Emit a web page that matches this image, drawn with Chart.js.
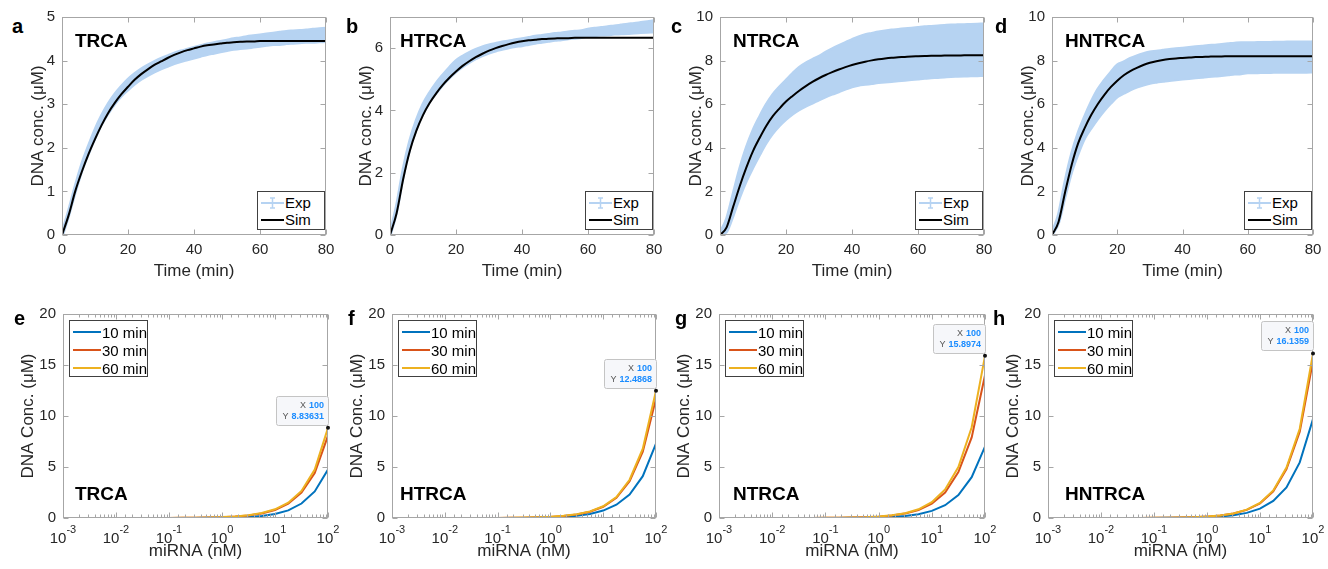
<!DOCTYPE html>
<html>
<head>
<meta charset="utf-8">
<script src="https://cdn.jsdelivr.net/npm/chart.js@4.4.1/dist/chart.umd.min.js"></script>
<style>
body{margin:0;width:1328px;height:569px;background:#fff;position:relative;overflow:hidden;font-family:'Liberation Sans',Arial,sans-serif;}
canvas{position:absolute;}
.tag{position:absolute;font-weight:bold;font-size:20px;line-height:20px;color:#000;}
.name{position:absolute;font-weight:bold;font-size:19px;line-height:19px;color:#000;}
.leg{position:absolute;background:#fff;border:1px solid #404040;box-sizing:border-box;color:#000;padding-top:2px;}
.leg .row{display:flex;align-items:center;white-space:nowrap;}
.leg svg{margin-left:3px;margin-right:1px;}
</style>
</head>
<body>
<script>
/* data: top row, kinetics (time in min, conc in uM) */
const timeMin = [0,2,4,6,8,10,12,14,16,18,20,22,24,26,28,30,32,34,36,38,40,42,44,46,48,50,52,54,56,58,60,62,64,66,68,70,72,74,76,78,80];

const trcaExpMean = [0,0.5,1.05,1.55,1.95,2.32,2.64,2.9,3.12,3.3,3.45,3.58,3.69,3.78,3.86,3.93,3.99,4.05,4.1,4.14,4.18,4.22,4.26,4.29,4.32,4.35,4.38,4.4,4.42,4.44,4.46,4.48,4.5,4.51,4.53,4.54,4.55,4.56,4.57,4.58,4.59];
const trcaExpErr = [0.04,0.06,0.07,0.08,0.09,0.1,0.1,0.11,0.11,0.11,0.12,0.12,0.12,0.12,0.12,0.12,0.12,0.12,0.12,0.12,0.12,0.12,0.12,0.12,0.12,0.12,0.12,0.12,0.13,0.13,0.13,0.13,0.13,0.14,0.14,0.14,0.14,0.14,0.15,0.15,0.15];
const trcaSim = [0,0.45,1.0,1.45,1.85,2.2,2.52,2.8,3.03,3.23,3.4,3.56,3.69,3.8,3.9,3.98,4.06,4.13,4.19,4.24,4.28,4.32,4.35,4.37,4.39,4.41,4.42,4.43,4.44,4.44,4.45,4.45,4.45,4.45,4.45,4.45,4.45,4.45,4.45,4.45,4.45];

const htrcaExpMean = [0,0.85,2.0,2.9,3.55,4.05,4.42,4.72,4.98,5.21,5.42,5.57,5.7,5.81,5.9,5.97,6.03,6.08,6.12,6.16,6.19,6.23,6.27,6.3,6.33,6.36,6.38,6.41,6.43,6.45,6.5,6.52,6.54,6.56,6.58,6.6,6.62,6.64,6.66,6.68,6.7];
const htrcaExpErr = [0.04,0.1,0.12,0.13,0.14,0.15,0.15,0.16,0.16,0.17,0.18,0.17,0.16,0.15,0.14,0.13,0.12,0.12,0.11,0.11,0.11,0.11,0.11,0.11,0.11,0.11,0.11,0.11,0.11,0.11,0.11,0.12,0.12,0.13,0.13,0.14,0.15,0.15,0.16,0.17,0.18];
const htrcaSim = [0,0.7,1.8,2.7,3.35,3.85,4.24,4.55,4.82,5.05,5.25,5.43,5.58,5.71,5.82,5.92,6.0,6.07,6.13,6.18,6.22,6.25,6.27,6.29,6.3,6.31,6.32,6.32,6.33,6.33,6.33,6.33,6.33,6.33,6.33,6.33,6.33,6.33,6.33,6.33,6.33];

const ntrcaExpMean = [0.05,0.45,1.4,2.4,3.25,3.95,4.55,5.1,5.55,5.9,6.2,6.48,6.72,6.9,7.05,7.2,7.36,7.5,7.63,7.76,7.88,7.98,8.05,8.1,8.15,8.19,8.22,8.25,8.28,8.31,8.34,8.37,8.39,8.41,8.43,8.45,8.46,8.47,8.48,8.49,8.5];
const ntrcaExpErr = [0.05,0.3,0.5,0.65,0.77,0.85,0.87,0.88,0.89,0.89,0.9,0.93,0.97,0.99,1.0,1.0,1.02,1.04,1.06,1.07,1.08,1.11,1.14,1.15,1.16,1.17,1.18,1.18,1.18,1.18,1.18,1.18,1.18,1.18,1.18,1.18,1.18,1.18,1.18,1.18,1.18];
const ntrcaSim = [0,0.35,1.3,2.25,3.1,3.85,4.45,5.0,5.45,5.8,6.12,6.38,6.62,6.83,7.02,7.19,7.34,7.47,7.59,7.7,7.8,7.88,7.95,8.01,8.06,8.1,8.13,8.15,8.17,8.19,8.2,8.21,8.22,8.22,8.23,8.23,8.23,8.24,8.24,8.24,8.24];

const hntrcaExpMean = [0.05,0.75,2.1,3.3,4.2,4.93,5.5,6.0,6.4,6.75,7.07,7.22,7.38,7.5,7.6,7.68,7.72,7.76,7.8,7.83,7.86,7.89,7.92,7.95,7.98,8.0,8.03,8.06,8.09,8.11,8.13,8.13,8.14,8.14,8.15,8.15,8.16,8.16,8.16,8.16,8.17];
const hntrcaExpErr = [0.05,0.2,0.35,0.42,0.48,0.5,0.6,0.67,0.69,0.71,0.73,0.72,0.72,0.72,0.72,0.72,0.71,0.71,0.71,0.71,0.71,0.71,0.71,0.71,0.71,0.71,0.71,0.71,0.71,0.71,0.69,0.69,0.69,0.69,0.69,0.69,0.69,0.69,0.69,0.69,0.69];
const hntrcaSim = [0,0.6,1.95,3.2,4.2,4.9,5.5,6.0,6.42,6.78,7.08,7.33,7.52,7.67,7.8,7.9,7.97,8.03,8.07,8.1,8.12,8.14,8.16,8.17,8.18,8.19,8.19,8.2,8.2,8.2,8.2,8.2,8.2,8.2,8.2,8.2,8.2,8.2,8.2,8.2,8.2];

/* data: bottom row, dose response (miRNA in nM) */
const miRNA = [0.001,0.00178,0.00316,0.00562,0.01,0.0178,0.0316,0.0562,0.1,0.178,0.316,0.562,1,1.78,3.16,5.62,10,17.8,31.6,56.2,100];
const seriesNames = ['10 min','30 min','60 min'];

const trca10 = [0.00002,0.00004,0.00007,0.0001,0.0002,0.0004,0.0007,0.001,0.002,0.004,0.007,0.013,0.025,0.05,0.1,0.2,0.4,0.75,1.42,2.6,4.75];
const trca30 = [0.00008,0.00014,0.00025,0.00045,0.0008,0.0014,0.0025,0.0045,0.008,0.014,0.025,0.045,0.08,0.14,0.25,0.45,0.79,1.4,2.5,4.4,8.07];
const trca60 = [0.00009,0.00016,0.00028,0.0005,0.0009,0.0016,0.0028,0.005,0.009,0.016,0.028,0.05,0.088,0.155,0.275,0.49,0.85,1.5,2.65,4.75,8.83631];

const htrca10 = [0.00003,0.00005,0.00009,0.00016,0.0003,0.0005,0.0009,0.0016,0.003,0.006,0.012,0.028,0.055,0.11,0.21,0.4,0.73,1.3,2.3,4.1,7.3];
const htrca30 = [0.00011,0.0002,0.00035,0.0006,0.0011,0.002,0.0035,0.006,0.011,0.02,0.035,0.062,0.11,0.2,0.35,0.62,1.1,1.98,3.6,6.5,11.7];
const htrca60 = [0.00012,0.00021,0.00038,0.00067,0.0012,0.0021,0.0038,0.0067,0.012,0.021,0.038,0.067,0.12,0.21,0.37,0.65,1.15,2.05,3.75,6.8,12.4868];

const ntrca10 = [0.00003,0.00005,0.00009,0.00016,0.0003,0.0005,0.0009,0.0016,0.003,0.006,0.013,0.025,0.05,0.1,0.19,0.37,0.7,1.25,2.25,4.0,7.0];
const ntrca30 = [0.00013,0.00024,0.00043,0.0008,0.0013,0.0024,0.0043,0.008,0.013,0.024,0.043,0.077,0.13,0.24,0.43,0.77,1.4,2.5,4.5,7.9,14.0];
const ntrca60 = [0.00014,0.00025,0.00045,0.0008,0.0014,0.0025,0.0045,0.008,0.014,0.025,0.045,0.08,0.145,0.26,0.47,0.85,1.55,2.8,5.0,8.9,15.8974];

const hntrca10 = [0.00008,0.00014,0.00025,0.00045,0.0008,0.0014,0.0025,0.0045,0.008,0.014,0.025,0.045,0.075,0.14,0.27,0.5,0.92,1.68,3.0,5.45,9.7];
const hntrca30 = [0.00013,0.00024,0.00042,0.00075,0.0013,0.0024,0.0042,0.0075,0.013,0.024,0.042,0.075,0.135,0.24,0.44,0.8,1.44,2.62,4.8,8.45,15.4];
const hntrca60 = [0.00014,0.00025,0.00045,0.0008,0.0014,0.0025,0.0045,0.008,0.014,0.025,0.045,0.08,0.14,0.25,0.45,0.82,1.48,2.7,4.95,8.75,16.1359];

/* layout */
const FONT = "'Liberation Sans', Arial, sans-serif";
const TXT = '#262626';
const EXP_BLUE = '#b6d3f2';
const lineColors = ['#0072BD','#D95319','#EDB120'];

const topPanels = [
  {tag:'a', name:'TRCA',   mean:trcaExpMean,   err:trcaExpErr,   sim:trcaSim,   yMax:5,  yStep:1, box:[62,326,17,235],   tagX:12,  nameX:75},
  {tag:'b', name:'HTRCA',  mean:htrcaExpMean,  err:htrcaExpErr,  sim:htrcaSim,  yMax:7,  yStep:2, box:[390,654,17,235],  tagX:346, nameX:400},
  {tag:'c', name:'NTRCA',  mean:ntrcaExpMean,  err:ntrcaExpErr,  sim:ntrcaSim,  yMax:10, yStep:2, box:[720,984,17,235],  tagX:671, nameX:733},
  {tag:'d', name:'HNTRCA', mean:hntrcaExpMean, err:hntrcaExpErr, sim:hntrcaSim, yMax:10, yStep:2, box:[1052,1313,17,235],tagX:995, nameX:1065}
];
const bottomPanels = [
  {tag:'e', name:'TRCA',   series:[trca10,trca30,trca60],       box:[63,328,314,518],   tagX:14,  nameX:75},
  {tag:'f', name:'HTRCA',  series:[htrca10,htrca30,htrca60],    box:[392,656,314,518],  tagX:348, nameX:400},
  {tag:'g', name:'NTRCA',  series:[ntrca10,ntrca30,ntrca60],    box:[719,985,314,518],  tagX:675, nameX:733},
  {tag:'h', name:'HNTRCA', series:[hntrca10,hntrca30,hntrca60], box:[1048,1313,314,518],tagX:993, nameX:1065}
];

const isDecade = v => Math.abs(Math.log10(v) - Math.round(Math.log10(v))) < 1e-6;

// box, inward ticks, log tick labels with superscripts
const matlabAxes = {
  id: 'matlabAxes',
  afterDatasetsDraw(chart) {
    const {ctx, chartArea: a} = chart;
    const xs = chart.scales.x, ys = chart.scales.y;
    const l = Math.round(a.left) + 0.5, r = Math.round(a.right) - 0.5;
    const t = Math.round(a.top) + 0.5, b = Math.round(a.bottom) - 0.5;
    const logX = xs.type === 'logarithmic';
    ctx.save();
    ctx.strokeStyle = '#a6a6a6';
    ctx.lineWidth = 1;
    ctx.beginPath();
    xs.ticks.forEach(tk => {
      if (tk.value < xs.min || tk.value > xs.max) return;
      const x = Math.round(xs.getPixelForValue(tk.value)) + 0.5;
      const len = logX && !isDecade(tk.value) ? 3 : 5;
      ctx.moveTo(x, b); ctx.lineTo(x, b - len);
      ctx.moveTo(x, t); ctx.lineTo(x, t + len);
    });
    ys.ticks.forEach(tk => {
      const y = Math.round(ys.getPixelForValue(tk.value)) + 0.5;
      ctx.moveTo(l, y); ctx.lineTo(l + 5, y);
      ctx.moveTo(r, y); ctx.lineTo(r - 5, y);
    });
    ctx.stroke();
    ctx.strokeRect(l, t, r - l, b - t);

    if (logX) {
      ctx.fillStyle = TXT;
      ctx.textBaseline = 'alphabetic';
      xs.ticks.forEach(tk => {
        if (!isDecade(tk.value)) return;
        const x = xs.getPixelForValue(tk.value);
        const ex = String(Math.round(Math.log10(tk.value)));
        ctx.font = '15px ' + FONT;
        const wb = ctx.measureText('10').width;
        ctx.font = '11px ' + FONT;
        const we = ctx.measureText(ex).width;
        const x0 = x - (wb + we) / 2;
        ctx.font = '15px ' + FONT;
        ctx.textAlign = 'left';
        ctx.fillText('10', x0, a.bottom + 25);
        ctx.font = '11px ' + FONT;
        ctx.fillText(ex, x0 + wb, a.bottom + 15);
      });
    }
    ctx.restore();
  }
};

// MATLAB style data tip on the last point of one dataset
const dataTip = {
  id: 'dataTip',
  afterDraw(chart, args, opts) {
    if (opts.dataset == null) return;
    const ds = chart.data.datasets[opts.dataset];
    const pt = ds.data[ds.data.length - 1];
    const px = chart.scales.x.getPixelForValue(pt.x);
    const py = chart.scales.y.getPixelForValue(pt.y);
    const {ctx} = chart;
    const w = 52, h = 29, x2 = px, y2 = py - 3;
    ctx.save();
    ctx.fillStyle = '#f6f7fa';
    ctx.strokeStyle = '#c4c4c4';
    ctx.lineWidth = 1;
    ctx.beginPath();
    ctx.roundRect(Math.round(x2 - w) + 0.5, Math.round(y2 - h) + 0.5, w, h, 2);
    ctx.fill(); ctx.stroke();
    ctx.fillStyle = '#111';
    ctx.beginPath();
    ctx.arc(px, py, 2, 0, Math.PI * 2);
    ctx.fill();
    const rows = [['X', String(pt.x)], ['Y', String(pt.y)]];
    rows.forEach((rw, i) => {
      const yy = y2 - h + 12 + i * 11;
      ctx.textAlign = 'right';
      ctx.font = 'bold 9px ' + FONT;
      ctx.fillStyle = '#1a8cff';
      ctx.fillText(rw[1], x2 - 4, yy);
      const wv = ctx.measureText(rw[1]).width;
      ctx.font = '9px ' + FONT;
      ctx.fillStyle = '#555';
      ctx.fillText(rw[0], x2 - 4 - wv - 3, yy);
    });
    ctx.restore();
  }
};

function addDiv(cls, text, left, top) {
  const d = document.createElement('div');
  d.className = cls;
  d.textContent = text;
  d.style.left = left + 'px';
  d.style.top = top + 'px';
  document.body.appendChild(d);
  return d;
}

function makeCanvas(box, yw, xh) {
  const [L, R, T, B] = box;
  const c = document.createElement('canvas');
  c.width = yw + (R - L) + 16;
  c.height = 12 + (B - T) + xh;
  c.style.left = (L - yw) + 'px';
  c.style.top = (T - 12) + 'px';
  document.body.appendChild(c);
  return c;
}

function baseScales(yw, yMax, yStep, yTitle) {
  return {
    y: {
      min: 0, max: yMax,
      grid: {display: false, drawTicks: false}, border: {display: false},
      ticks: {stepSize: yStep, padding: 7, color: TXT, font: {family: FONT, size: 15}},
      title: {display: true, text: yTitle, color: TXT, padding: 0, font: {family: FONT, size: 17}},
      afterBuildTicks: s => { s.ticks = s.ticks.filter(t => t.value % yStep === 0); },
      afterFit: s => { s.width = yw; s.paddingTop = 0; s.paddingBottom = 0; }
    }
  };
}

// top row: experiment band (mean +/- error) vs simulation
topPanels.forEach(p => {
  const yw = 34, xh = 47;
  const [L, R, T, B] = p.box;
  const scales = baseScales(yw, p.yMax, p.yStep, 'DNA conc. (\u03BCM)');
  scales.x = {
    type: 'linear', min: 0, max: 80, offset: false,
    grid: {display: false, drawTicks: false}, border: {display: false},
    ticks: {stepSize: 20, padding: 6, maxRotation: 0, color: TXT, font: {family: FONT, size: 15}},
    title: {display: true, text: 'Time (min)', color: TXT, padding: 0, font: {family: FONT, size: 17}},
    afterFit: s => { s.height = xh; s.paddingLeft = 0; s.paddingRight = 0; }
  };
  const band = {borderColor: EXP_BLUE, backgroundColor: EXP_BLUE, borderWidth: 3, pointRadius: 0, cubicInterpolationMode: 'monotone'};
  new Chart(makeCanvas(p.box, yw, xh), {
    type: 'line',
    data: {
      datasets: [
        {label: 'Sim', data: timeMin.map((t, i) => ({x: t, y: p.sim[i]})),
         borderColor: '#000', borderWidth: 2, pointRadius: 0, cubicInterpolationMode: 'monotone', fill: false, order: 1},
        Object.assign({label: 'Exp upper', data: timeMin.map((t, i) => ({x: t, y: p.mean[i] + p.err[i]})), fill: '+1', order: 2}, band),
        Object.assign({label: 'Exp lower', data: timeMin.map((t, i) => ({x: t, y: p.mean[i] - p.err[i]})), fill: false, order: 3}, band)
      ]
    },
    options: {
      responsive: false, animation: false, events: [],
      layout: {padding: {left: 0, top: 12, right: 16, bottom: 0}},
      plugins: {legend: {display: false}, tooltip: {enabled: false}},
      scales: scales
    },
    plugins: [matlabAxes]
  });
  addDiv('tag', p.tag, p.tagX, 16);
  addDiv('name', p.name, p.nameX, 31);
  const leg = addDiv('leg', '', R - 69, B - 44);
  leg.style.width = '68px'; leg.style.height = '39px'; leg.style.fontSize = '15px';
  leg.innerHTML =
    '<div class="row" style="height:17px"><svg width="23" height="12"><line x1="0" y1="6" x2="23" y2="6" stroke="' + EXP_BLUE + '" stroke-width="2"/>' +
    '<line x1="11.5" y1="1" x2="11.5" y2="11" stroke="' + EXP_BLUE + '" stroke-width="1.5"/><line x1="9" y1="1" x2="14" y2="1" stroke="' + EXP_BLUE + '" stroke-width="1.5"/>' +
    '<line x1="9" y1="11" x2="14" y2="11" stroke="' + EXP_BLUE + '" stroke-width="1.5"/></svg>Exp</div>' +
    '<div class="row" style="height:17px"><svg width="23" height="12"><line x1="0" y1="6" x2="23" y2="6" stroke="#000" stroke-width="2"/></svg>Sim</div>';
});

// bottom row: dose response at three times
bottomPanels.forEach(p => {
  const yw = 45, xh = 44;
  const [L, R, T, B] = p.box;
  const scales = baseScales(yw, 20, 5, 'DNA Conc. (\u03BCM)');
  scales.x = {
    type: 'logarithmic', min: 0.001, max: 100,
    grid: {display: false, drawTicks: false}, border: {display: false},
    ticks: {display: false},
    title: {display: true, text: 'miRNA (nM)', color: TXT, padding: 0, font: {family: FONT, size: 17}},
    afterFit: s => { s.height = xh; s.paddingLeft = 0; s.paddingRight = 0; }
  };
  const datasets = p.series.map((vals, k) => ({
    label: seriesNames[k],
    data: miRNA.map((c, i) => ({x: c, y: vals[i]})),
    borderColor: lineColors[k], borderWidth: 2, pointRadius: 0, tension: 0, order: 3 - k
  }));
  new Chart(makeCanvas(p.box, yw, xh), {
    type: 'line',
    data: {datasets: datasets},
    options: {
      responsive: false, animation: false, events: [],
      layout: {padding: {left: 0, top: 12, right: 16, bottom: 0}},
      plugins: {legend: {display: false}, tooltip: {enabled: false}, dataTip: {dataset: 2}},
      scales: scales
    },
    plugins: [matlabAxes, dataTip]
  });
  addDiv('tag', p.tag, p.tagX, 308);
  addDiv('name', p.name, p.nameX, 484);
  const leg = addDiv('leg', '', L + 6, T + 6);
  leg.style.width = '79px'; leg.style.height = '57px'; leg.style.fontSize = '15px';
  leg.innerHTML = seriesNames.map((n, k) =>
    '<div class="row" style="height:18px"><svg width="28" height="10"><line x1="0" y1="5" x2="28" y2="5" stroke="' + lineColors[k] + '" stroke-width="2"/></svg>' + n + '</div>'
  ).join('');
});
</script>
</body>
</html>
